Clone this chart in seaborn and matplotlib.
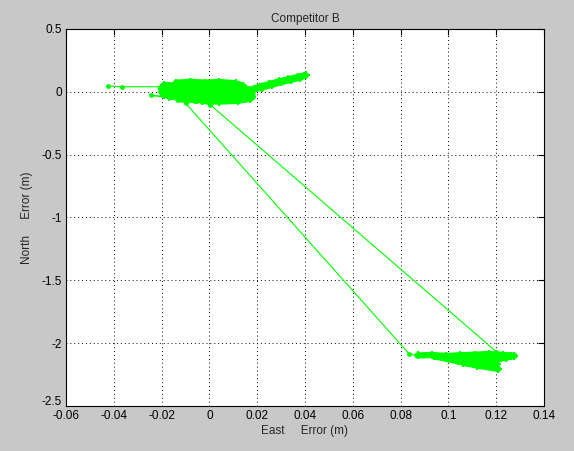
import matplotlib
matplotlib.use("Agg")
import matplotlib.pyplot as plt
import matplotlib.transforms as mtransforms
import pandas as pd
import seaborn as sns

# near-origin cluster, traced as a back-and-forth sweep through the blob
cluster_a_x = [-0.0423, -0.0366, -0.0205, -0.014, -0.008, -0.002, 0.004, 0.011,
               0.014, 0.008, 0.001, -0.006, -0.013, -0.019,
               -0.020, -0.012, -0.004, 0.005, 0.011, 0.015,
               0.016, 0.010, 0.002, -0.006, -0.014, -0.020,
               -0.019, -0.011, -0.003, 0.006, 0.012, 0.017,
               0.016, 0.021, 0.025, 0.029, 0.033, 0.037, 0.0403,
               0.038, 0.034, 0.030, 0.026, 0.022, 0.018,
               0.018, 0.012, 0.004, -0.004, -0.012, -0.017, -0.0245,
               -0.013, -0.006, 0.002, 0.009, 0.017,
               0.012, 0.004, -0.003, -0.010]
cluster_a_y = [0.046, 0.040, 0.040, 0.072, 0.080, 0.073, 0.078, 0.068,
               0.050, 0.056, 0.048, 0.057, 0.050, 0.054,
               0.025, 0.030, 0.022, 0.028, 0.024, 0.030,
               0.003, -0.004, 0.002, -0.003, 0.004, 0.000,
               -0.025, -0.020, -0.028, -0.022, -0.030, -0.024,
               0.012, 0.040, 0.062, 0.082, 0.100, 0.118, 0.133,
               0.112, 0.095, 0.076, 0.056, 0.034, 0.018,
               -0.045, -0.048, -0.042, -0.050, -0.044, -0.038, -0.028,
               -0.060, -0.066, -0.058, -0.064, -0.055,
               -0.072, -0.078, -0.074, -0.090]

# far cluster, after the jump
cluster_b_x = [0.0836, 0.0871, 0.093, 0.099, 0.105, 0.111, 0.117, 0.123, 0.1276,
               0.124, 0.118, 0.112, 0.106, 0.100, 0.094,
               0.104, 0.109, 0.114, 0.119, 0.1203,
               0.117, 0.111, 0.106, 0.112, 0.1207, 0.118, 0.122, 0.126, 0.120]
cluster_b_y = [-2.086, -2.098, -2.094, -2.102, -2.096, -2.092, -2.086, -2.094, -2.100,
               -2.116, -2.110, -2.118, -2.112, -2.108, -2.104,
               -2.145, -2.150, -2.142, -2.152, -2.162,
               -2.170, -2.166, -2.155, -2.178, -2.205, -2.130, -2.120, -2.106, -2.067]

# return to the near-origin cluster
cluster_c_x = [0.0004, -0.005, 0.003, 0.010, 0.005, -0.002]
cluster_c_y = [-0.104, -0.070, -0.062, -0.050, -0.030, -0.010]

path_x = cluster_a_x + cluster_b_x + cluster_c_x
path_y = cluster_a_y + cluster_b_y + cluster_c_y

GREEN = "#00ff00"
BG = "#c8c8c8"

sns.set_style("white")
plt.rcParams["font.family"] = ["Liberation Sans", "DejaVu Sans"]

path = pd.DataFrame({"x": path_x, "y": path_y})
# dense parts get a thick stroke; the stray points and jumps stay thin
blobs = pd.concat(
    [
        pd.DataFrame({"x": cluster_a_x[3:51], "y": cluster_a_y[3:51], "seg": "a"}),
        pd.DataFrame({"x": cluster_a_x[52:60], "y": cluster_a_y[52:60], "seg": "a2"}),
        pd.DataFrame({"x": cluster_b_x[1:-1], "y": cluster_b_y[1:-1], "seg": "b"}),
    ],
    ignore_index=True,
)

fig = plt.figure(figsize=(5.74, 4.51), dpi=100, facecolor=BG)
ax = fig.add_axes([0.115, 0.0998, 0.8327, 0.836])
ax.set_facecolor("white")

sns.lineplot(data=blobs, x="x", y="y", units="seg", estimator=None, sort=False,
             color=GREEN, linewidth=4.5, marker="+", markersize=6,
             markeredgewidth=1.5, markeredgecolor=GREEN, ax=ax)
sns.lineplot(data=path, x="x", y="y", estimator=None, sort=False,
             color=GREEN, linewidth=0.8, marker="o", markersize=3.5,
             markeredgewidth=0, ax=ax)

ax.set_xlim(-0.06, 0.14)
ax.set_ylim(-2.5, 0.5)
xticks = [-0.06, -0.04, -0.02, 0, 0.02, 0.04, 0.06, 0.08, 0.1, 0.12, 0.14]
yticks = [-2.5, -2, -1.5, -1, -0.5, 0, 0.5]
ax.set_xticks(xticks)
ax.set_xticklabels([f"{t:g}" for t in xticks])
ax.set_yticks(yticks)
ax.set_yticklabels([f"{t:g}" for t in yticks])
ax.tick_params(direction="in", length=4, width=0.8, top=True, right=True,
               labelsize=8.5, colors="black", pad=3)
ax.grid(True, color="black", linestyle=(0, (1, 3)), linewidth=0.7)
for spine in ax.spines.values():
    spine.set_color("black")
    spine.set_linewidth(0.8)

# the bottom y label sits a little higher so it clears the first x label
lift = mtransforms.ScaledTranslation(0, 4 / 72, fig.dpi_scale_trans)
bottom_label = ax.get_yticklabels()[0]
bottom_label.set_transform(bottom_label.get_transform() + lift)

ax.set_title("Competitor B", fontsize=8.5, pad=5)
ax.set_xlabel("East     Error (m)", fontsize=8.5, labelpad=2)
ax.set_ylabel("North     Error (m)", fontsize=8.5, labelpad=6)

fig.savefig("out.png", dpi=100, facecolor=BG)
